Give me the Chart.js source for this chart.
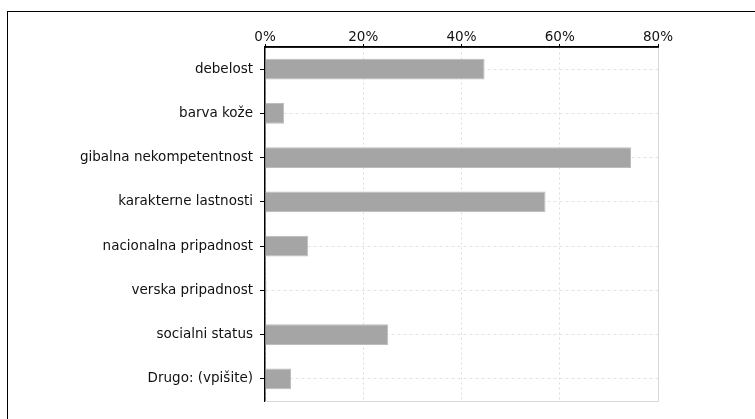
<!DOCTYPE html>
<html>
<head>
<meta charset="utf-8">
<script src="https://cdn.jsdelivr.net/npm/chart.js"></script>
<style>
  html, body { margin: 0; padding: 0; background: #fff; overflow: hidden; }
  #frame {
    position: absolute; left: 7px; top: 11px; width: 800px; height: 500px;
    border-left: 1px solid #000; border-top: 1px solid #000;
  }
  #wrap { position: absolute; left: 0; top: 0; width: 755px; height: 419px; }
</style>
</head>
<body>
<div id="frame"></div>
<div id="wrap"><canvas id="chart"></canvas></div>
<script>
// ── DATA ──────────────────────────────────────────
const categories = [
  'debelost',
  'barva kože',
  'gibalna nekompetentnost',
  'karakterne lastnosti',
  'nacionalna pripadnost',
  'verska pripadnost',
  'socialni status',
  'Drugo: (vpišite)'
];
const percents = [44.7, 3.9, 74.5, 57.1, 8.8, 0.3, 25.1, 5.3];
const xTicks = [0, 20, 40, 60, 80];

// light frame on the right and bottom of the plot area, black axis line on top
const plotFrame = {
  id: 'plotFrame',
  beforeDatasetsDraw(chart) {
    const { ctx, chartArea: a } = chart;
    ctx.save();
    ctx.strokeStyle = '#d8d8d8';
    ctx.lineWidth = 1;
    ctx.beginPath();
    ctx.moveTo(a.right + 0.5, a.top);
    ctx.lineTo(a.right + 0.5, a.bottom + 0.5);
    ctx.lineTo(a.left, a.bottom + 0.5);
    ctx.stroke();
    ctx.strokeStyle = '#000';
    ctx.lineWidth = 1.5;
    ctx.beginPath();
    ctx.moveTo(a.left, a.top);
    ctx.lineTo(a.right + 1, a.top);
    ctx.stroke();
    ctx.restore();
  }
};

const font = { family: '"DejaVu Sans", Verdana, sans-serif', size: 13.5 };

new Chart(document.getElementById('chart'), {
  type: 'bar',
  data: {
    labels: categories,
    datasets: [{
      data: percents,
      backgroundColor: '#a5a5a5',
      borderColor: '#bcbcbc',
      borderWidth: 1,
      barPercentage: 0.47,
      categoryPercentage: 1
    }]
  },
  options: {
    indexAxis: 'y',
    responsive: true,
    maintainAspectRatio: false,
    animation: false,
    layout: { padding: { left: 0, top: 0, right: 97, bottom: 18 } },
    scales: {
      x: {
        position: 'top',
        min: 0,
        max: 80,
        afterBuildTicks: s => { s.ticks = xTicks.map(v => ({ value: v })); },
        afterFit: s => { s.height = 47; },
        ticks: {
          color: '#111',
          font: font,
          padding: -2,
          callback: v => v + '%'
        },
        grid: { color: '#dcdcdc', tickColor: '#000', tickLength: 3 },
        border: { color: '#000', width: 1.5, dash: [2, 3] }
      },
      y: {
        afterFit: s => { s.width = 265; },
        ticks: { color: '#111', font: font, padding: 7 },
        grid: { offset: false, color: '#e2e2e2', tickColor: '#000', tickLength: 5 },
        border: { color: '#000', width: 1.5, dash: [3, 3] }
      }
    },
    plugins: {
      legend: { display: false },
      tooltip: { enabled: false }
    }
  },
  plugins: [plotFrame]
});
</script>
</body>
</html>
